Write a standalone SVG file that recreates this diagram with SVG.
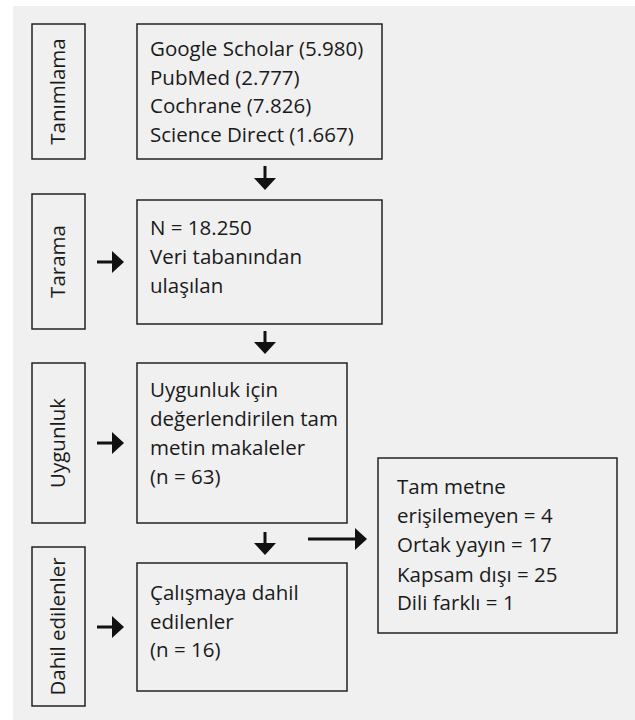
<svg xmlns="http://www.w3.org/2000/svg" width="635" height="720" viewBox="0 0 635 720">
<defs>
<style>
.bg{fill:#f0f0f0}
.box{fill:none;stroke:#222;stroke-width:1.5}
.t{font-family:"Open Sans",Lato,"Liberation Sans",sans-serif;font-size:20.5px;fill:#1a1a1a}
.lab{text-anchor:middle}
.con line{stroke:#111;stroke-width:3;marker-end:url(#ah)}
</style>
<marker id="ah" markerUnits="userSpaceOnUse" markerWidth="12" markerHeight="22" refX="2" refY="11" orient="auto" viewBox="0 0 12 22">
<path d="M0,0 L12,11 L0,22 Z" fill="#111"/>
</marker>
</defs>
<rect class="bg" x="13" y="6" width="622" height="714"/>

<g id="label-tanimlama">
<rect class="box" x="32" y="24" width="53" height="135"/>
<text class="t lab" transform="translate(65,91.5) rotate(-90)">Tanımlama</text>
</g>
<g id="label-tarama">
<rect class="box" x="32" y="194" width="53" height="135"/>
<text class="t lab" transform="translate(65,261.5) rotate(-90)">Tarama</text>
</g>
<g id="label-uygunluk">
<rect class="box" x="32" y="363" width="53" height="160"/>
<text class="t lab" transform="translate(65,443) rotate(-90)">Uygunluk</text>
</g>
<g id="label-dahil">
<rect class="box" x="32" y="547" width="53" height="159"/>
<text class="t lab" transform="translate(65,626.5) rotate(-90)">Dahil edilenler</text>
</g>

<g id="node-databases">
<rect class="box" x="137" y="24" width="245" height="135"/>
<text class="t" x="150" y="56">Google Scholar (5.980)</text>
<text class="t" x="150" y="85">PubMed (2.777)</text>
<text class="t" x="150" y="113">Cochrane (7.826)</text>
<text class="t" x="150" y="142">Science Direct (1.667)</text>
</g>
<g id="node-screening">
<rect class="box" x="137" y="200" width="245" height="124"/>
<text class="t" x="150" y="235">N = 18.250</text>
<text class="t" x="150" y="264">Veri tabanından</text>
<text class="t" x="150" y="293">ulaşılan</text>
</g>
<g id="node-eligibility">
<rect class="box" x="137" y="363" width="210" height="160"/>
<text class="t" x="150" y="397">Uygunluk için</text>
<text class="t" x="150" y="426">değerlendirilen tam</text>
<text class="t" x="150" y="455">metin makaleler</text>
<text class="t" x="150" y="484">(n = 63)</text>
</g>
<g id="node-included">
<rect class="box" x="137" y="563" width="210" height="128"/>
<text class="t" x="150" y="600">Çalışmaya dahil</text>
<text class="t" x="150" y="629">edilenler</text>
<text class="t" x="150" y="657">(n = 16)</text>
</g>
<g id="node-excluded">
<rect class="box" x="378" y="458" width="239" height="175"/>
<text class="t" x="397" y="494">Tam metne</text>
<text class="t" x="397" y="523">erişilemeyen = 4</text>
<text class="t" x="397" y="552">Ortak yayın = 17</text>
<text class="t" x="397" y="582">Kapsam dışı = 25</text>
<text class="t" x="397" y="610">Dili farklı = 1</text>
</g>

<g id="connectors" class="con">
<line x1="265" y1="166" x2="265" y2="180"/>
<line x1="265" y1="331" x2="265" y2="344"/>
<line x1="265" y1="532" x2="265" y2="545"/>
<line x1="97" y1="262" x2="114" y2="262"/>
<line x1="97" y1="443" x2="114" y2="443"/>
<line x1="97" y1="627" x2="114" y2="627"/>
<line x1="308" y1="539" x2="357" y2="539"/>
</g>
</svg>
